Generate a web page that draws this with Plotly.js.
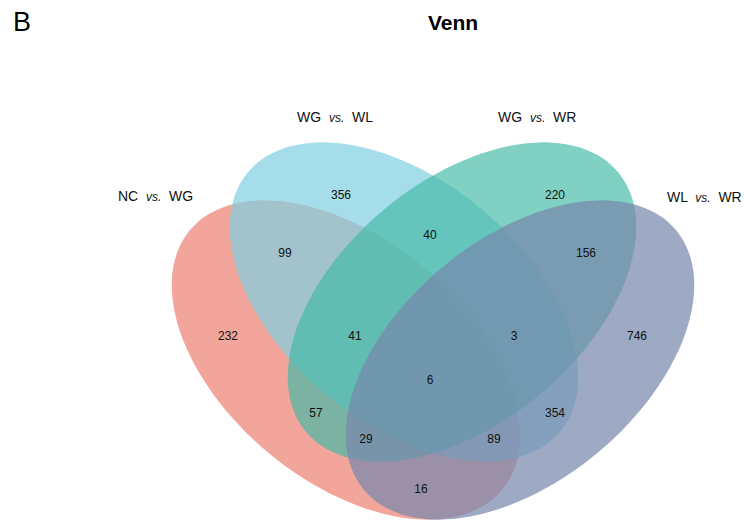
<!DOCTYPE html>
<html>
<head>
<meta charset="utf-8">
<script src="https://cdn.plot.ly/plotly-3.0.1.min.js"></script>
<style>html,body{margin:0;padding:0;background:#fff}#chart{width:744px;height:520px}</style>
</head>
<body>
<div id="chart"></div>
<script>
// Set names (the four comparisons)
const setNames = ["NC <i>vs.</i> WG", "WG <i>vs.</i> WL", "WG <i>vs.</i> WR", "WL <i>vs.</i> WR"];
const setColors = ["rgba(242,165,154,1)", "rgba(128,206,225,0.7)", "rgba(66,185,166,0.67)", "rgba(118,135,172,0.71)"];

// Region counts
const regionCounts = [356, 220, 99, 40, 156, 232, 41, 3, 746, 6, 57, 354, 29, 89, 16];

// Layout geometry (pixel space)
const regionX = [341, 555, 285, 430, 586, 228, 355, 514, 637, 430, 316, 555, 366, 494, 421];
const regionY = [196, 196, 254, 236, 254, 337, 337, 337, 337, 381, 414, 414, 440, 440, 490];
const ellipses = [
  {cx: 346, cy: 360, a: 203, b: 121, ang: 39.7},
  {cx: 404, cy: 302, a: 203, b: 121, ang: 39.7},
  {cx: 462, cy: 302, a: 203, b: 121, ang: -39.7},
  {cx: 520, cy: 360, a: 203, b: 121, ang: -39.7}
];
const labelPos = [[155, 196], [335, 117], [537, 117], [704, 197]];

function ellipsePath(e) {
  const th = e.ang * Math.PI / 180, n = 120;
  let p = "";
  for (let i = 0; i <= n; i++) {
    const t = 2 * Math.PI * i / n;
    const x = e.cx + e.a * Math.cos(t) * Math.cos(th) - e.b * Math.sin(t) * Math.sin(th);
    const y = e.cy + e.a * Math.cos(t) * Math.sin(th) + e.b * Math.sin(t) * Math.cos(th);
    p += (i === 0 ? "M" : "L") + x.toFixed(2) + "," + y.toFixed(2);
  }
  return p + "Z";
}

const shapes = ellipses.map((e, i) => ({
  type: "path", path: ellipsePath(e), xref: "x", yref: "y",
  fillcolor: setColors[i], line: {width: 0}, layer: "below"
}));

const annotations = setNames.map((s, i) => ({
  x: labelPos[i][0], y: labelPos[i][1], xref: "x", yref: "y",
  text: s.replace("<i>vs.</i>", " <i><span style='font-size:12px'>vs.</span></i> "),
  showarrow: false, font: {family: "Liberation Sans, Arial, sans-serif", size: 14, color: "#111"}
}));
annotations.push({x: 11, y: 22, xref: "x", yref: "y", xanchor: "left", text: "B", showarrow: false,
  font: {family: "Liberation Sans, Arial, sans-serif", size: 27, color: "#000"}});
annotations.push({x: 453, y: 22, xref: "x", yref: "y", text: "<b>Venn</b>", showarrow: false,
  font: {family: "Liberation Sans, Arial, sans-serif", size: 21, color: "#000"}});

const trace = {
  type: "scatter", mode: "text", x: regionX, y: regionY,
  text: regionCounts.map(String), textposition: "middle center",
  textfont: {family: "Liberation Sans, Arial, sans-serif", size: 12, color: "#111"},
  hoverinfo: "none", showlegend: false
};

Plotly.newPlot("chart", [trace], {
  width: 744, height: 520, margin: {l: 0, r: 0, t: 0, b: 0},
  paper_bgcolor: "#fff", plot_bgcolor: "#fff",
  xaxis: {range: [0, 744], visible: false, fixedrange: true},
  yaxis: {range: [520, 0], visible: false, fixedrange: true},
  shapes: shapes, annotations: annotations, showlegend: false
}, {staticPlot: true});
</script>
</body>
</html>
